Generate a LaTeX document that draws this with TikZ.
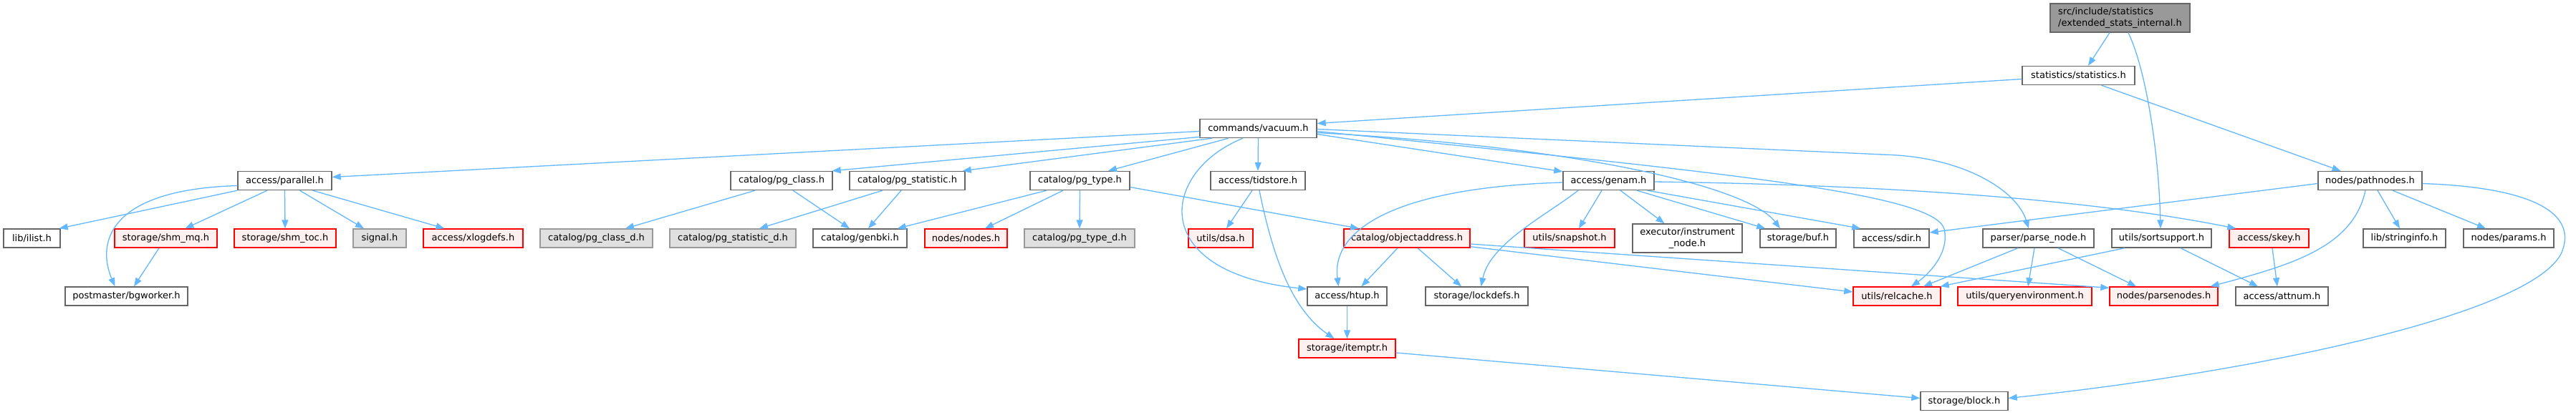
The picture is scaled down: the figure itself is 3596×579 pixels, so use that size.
\documentclass[tikz,border=0pt]{standalone}
\usepackage{fontspec}
\setmainfont{DejaVu Sans}
\usetikzlibrary{arrows.meta}
\definecolor{edgec}{HTML}{63B8FF}
\definecolor{boxborder}{HTML}{666666}
\definecolor{redfill}{HTML}{FFF0F0}
\definecolor{redborder}{HTML}{FF0000}
\definecolor{grayfill}{HTML}{E0E0E0}
\definecolor{grayborder}{HTML}{999999}
\definecolor{topfill}{HTML}{999999}
\begin{document}
\begin{tikzpicture}[x=1pt,y=-1pt,
  box/.style={draw=boxborder, fill=white, line width=1.4pt, minimum height=26pt,
    inner xsep=2pt, inner ysep=0pt, font=\fontsize{13}{15.5}\selectfont, text=black},
  redbox/.style={box, draw=redborder, fill=redfill},
  graybox/.style={box, draw=grayborder, fill=grayfill},
  topbox/.style={box, fill=topfill, minimum height=40pt, align=left},
  twoline/.style={box, minimum height=40pt, align=center},
  edge/.style={draw=edgec, line width=1.3pt, -{Triangle[length=12pt,width=9pt]}}]
\useasboundingbox (0,0) rectangle (3596,579);
\fill[white] (0,0) rectangle (3596,579);
% row 1-3
\node[topbox, minimum width=195pt] (top) at (2959.5,25) {src/include/statistics\\/extended\_stats\_internal.h};
\node[box, minimum width=157pt] (stat) at (2901.5,105.5) {statistics/statistics.h};
\node[box, minimum width=163pt] (vac) at (1756.5,179.5) {commands/vacuum.h};
% row 4
\node[box, minimum width=131pt] (par) at (397.5,252.5) {access/parallel.h};
\node[box, minimum width=142pt] (pgc) at (1091,252.5) {catalog/pg\_class.h};
\node[box, minimum width=161pt] (pgs) at (1266.5,252.5) {catalog/pg\_statistic.h};
\node[box, minimum width=139pt] (pgt) at (1507.5,252.5) {catalog/pg\_type.h};
\node[box, minimum width=132pt] (tid) at (1756,252.5) {access/tidstore.h};
\node[box, minimum width=127pt] (gen) at (2245.5,252.5) {access/genam.h};
\node[box, minimum width=145pt] (pth) at (3308.5,252.5) {nodes/pathnodes.h};
% row 5
\node[box, minimum width=79pt] (ilist) at (44.5,333) {lib/ilist.h};
\node[redbox, minimum width=143pt] (shmmq) at (231.5,333) {storage/shm\_mq.h};
\node[redbox, minimum width=142pt] (shmtoc) at (398,333) {storage/shm\_toc.h};
\node[graybox, minimum width=74pt] (sig) at (530,333) {signal.h};
\node[redbox, minimum width=139pt] (xlog) at (660.5,333) {access/xlogdefs.h};
\node[graybox, minimum width=157pt] (pgcd) at (832.5,333) {catalog/pg\_class\_d.h};
\node[graybox, minimum width=176pt] (pgsd) at (1023,333) {catalog/pg\_statistic\_d.h};
\node[box, minimum width=131pt] (genbki) at (1200.5,333) {catalog/genbki.h};
\node[redbox, minimum width=115pt] (nodes) at (1348.5,333) {nodes/nodes.h};
\node[graybox, minimum width=154pt] (pgtd) at (1507,333) {catalog/pg\_type\_d.h};
\node[redbox, minimum width=90pt] (dsa) at (1704,333) {utils/dsa.h};
\node[redbox, minimum width=176pt] (obj) at (1964,333) {catalog/objectaddress.h};
\node[redbox, minimum width=126pt] (snap) at (2191,333) {utils/snapshot.h};
\node[twoline, minimum width=153pt] (instr) at (2355.5,333) {executor/instrument\\\_node.h};
\node[box, minimum width=106pt] (buf) at (2510,333) {storage/buf.h};
\node[box, minimum width=105pt] (sdir) at (2640.5,333) {access/sdir.h};
\node[box, minimum width=155pt] (pnode) at (2845.5,333) {parser/parse\_node.h};
\node[box, minimum width=139pt] (sort) at (3017.5,333) {utils/sortsupport.h};
\node[redbox, minimum width=111pt] (skey) at (3167.5,333) {access/skey.h};
\node[box, minimum width=115pt] (strinfo) at (3356.5,333) {lib/stringinfo.h};
\node[box, minimum width=126pt] (params) at (3502,333) {nodes/params.h};
% row 6
\node[box, minimum width=171pt] (bgw) at (176.5,414) {postmaster/bgworker.h};
\node[box, minimum width=111pt] (htup) at (1880.5,414) {access/htup.h};
\node[box, minimum width=143pt] (lockd) at (2061.5,414) {storage/lockdefs.h};
\node[redbox, minimum width=122pt] (relc) at (2648,414) {utils/relcache.h};
\node[redbox, minimum width=187pt] (qenv) at (2826.5,414) {utils/queryenvironment.h};
\node[redbox, minimum width=151pt] (pnodes) at (3020.5,414) {nodes/parsenodes.h};
\node[box, minimum width=129pt] (attnum) at (3185.5,414) {access/attnum.h};
% row 7-8
\node[redbox, minimum width=135pt] (itemptr) at (1880.5,487) {storage/itemptr.h};
\node[box, minimum width=122pt] (block) at (2742,560.5) {storage/block.h};

% edges
\draw[edge] ([shift={(-14.5,0)}]top.south) -- ([shift={(13.5,0)}]stat.north);
\draw[edge] ([shift={(11.5,0)}]top.south) .. controls (2997,100) and (3014,220) .. ([shift={(-1.5,0)}]sort.north);
\draw[edge] ([shift={(0,5)}]stat.west) -- ([shift={(0,-7)}]vac.east);
\draw[edge] ([shift={(32,0)}]stat.south) -- ([shift={(-41,0)}]pth.north);
% vacuum
\draw[edge] ([shift={(0,4)}]vac.west) -- ([shift={(0,-5)}]par.east);
\draw[edge] ([shift={(2,-2)}]vac.south west) -- ([shift={(-1,0)}]pgc.north east);
\draw[edge] ([shift={(-64.5,0)}]vac.south) -- ([shift={(-4,0)}]pgs.north east);
\draw[edge] ([shift={(-41.5,0)}]vac.south) -- ([shift={(39.5,0)}]pgt.north);
\draw[edge] (vac.south) -- (tid.north);
\draw[edge] ([shift={(-21.5,0)}]vac.south) .. controls (1620,240) and (1600,380) .. ([shift={(0,-10)}]htup.west);
\draw[edge] ([shift={(0,8)}]vac.east) -- ([shift={(0,1)}]gen.north west);
\draw[edge] ([shift={(0,1)}]vac.east) -- (2640,216.5) .. controls (2740,221) and (2815,265) .. ([shift={(-13.5,0)}]pnode.north);
\draw[edge] ([shift={(0,6)}]vac.east) .. controls (2200,205) and (2440,260) .. ([shift={(-25,0)}]buf.north);
\draw[edge] ([shift={(0,4)}]vac.east) .. controls (2400,240) and (2700,270) .. (2714,320) .. controls (2722,355) and (2690,385) .. ([shift={(20,0)}]relc.north);
% genam
\draw[edge] ([shift={(0,1.5)}]gen.east) .. controls (2600,258) and (2900,275) .. ([shift={(10,0)}]skey.north west);
\draw[edge] ([shift={(-10,0)}]gen.south east) -- ([shift={(10,0)}]sdir.north west);
\draw[edge] ([shift={(39.5,0)}]gen.south) -- ([shift={(8,0)}]buf.north west);
\draw[edge] ([shift={(16.5,0)}]gen.south) -- ([shift={(-32,0)}]instr.north);
\draw[edge] ([shift={(-9.5,0)}]gen.south) -- ([shift={(13,0)}]snap.north);
\draw[edge] ([shift={(0,2.5)}]gen.west) .. controls (1950,262) and (1858,320) .. ([shift={(-12,0)}]htup.north);
\draw[edge] ([shift={(-42.5,0)}]gen.south) .. controls (2160,300) and (2080,340) .. ([shift={(6,0)}]lockd.north);
% parallel
\draw[edge] (par.south west) -- ([shift={(-2,0)}]ilist.north east);
\draw[edge] ([shift={(0,7)}]par.west) .. controls (150,265) and (135,340) .. ([shift={(-16,0)}]bgw.north);
\draw[edge] ([shift={(-24.5,0)}]par.south) -- ([shift={(27,0)}]shmmq.north);
\draw[edge] (par.south) -- (shmtoc.north);
\draw[edge] ([shift={(21,0)}]par.south) -- ([shift={(-22,0)}]sig.north);
\draw[edge] ([shift={(39,0)}]par.south) -- ([shift={(-40,0)}]xlog.north);
\draw[edge] ([shift={(-9.5,0)}]shmmq.south) -- ([shift={(10.5,0)}]bgw.north);
% catalog
\draw[edge] ([shift={(-37,0)}]pgc.south) -- ([shift={(40.5,0)}]pgcd.north);
\draw[edge] ([shift={(16,0)}]pgc.south) -- ([shift={(-14.5,0)}]genbki.north);
\draw[edge] ([shift={(-34.5,0)}]pgs.south) -- ([shift={(37,0)}]pgsd.north);
\draw[edge] ([shift={(-8.5,0)}]pgs.south) -- ([shift={(11.5,0)}]genbki.north);
\draw[edge] ([shift={(-46.5,0)}]pgt.south) -- ([shift={(-14,0)}]genbki.north east);
\draw[edge] ([shift={(-23.5,0)}]pgt.south) -- ([shift={(26.5,0)}]nodes.north);
\draw[edge] (pgt.south) -- (pgtd.north);
\draw[edge] ([shift={(0,9)}]pgt.east) -- ([shift={(-67,0)}]obj.north);
% tidstore
\draw[edge] ([shift={(-8,0)}]tid.south) -- ([shift={(8,0)}]dsa.north);
\draw[edge] ([shift={(2,0)}]tid.south) .. controls (1775,350) and (1800,430) .. ([shift={(-18,0)}]itemptr.north);
% objectaddress
\draw[edge] ([shift={(-13,0)}]obj.south) -- ([shift={(20,0)}]htup.north);
\draw[edge] ([shift={(15,0)}]obj.south) -- ([shift={(-21.5,0)}]lockd.north);
\draw[edge] ([shift={(0,-2)}]obj.south east) -- ([shift={(0,-6)}]relc.west);
\draw[edge] ([shift={(0,8)}]obj.east) -- ([shift={(0,2)}]pnodes.north west);
% htup, itemptr
\draw[edge] (htup.south) -- (itemptr.north);
\draw[edge] ([shift={(0,6)}]itemptr.east) -- ([shift={(0,-4)}]block.west);
% parse_node, sortsupport, skey
\draw[edge] ([shift={(-28.5,0)}]pnode.south) -- ([shift={(37,0)}]relc.north);
\draw[edge] ([shift={(-5.5,0)}]pnode.south) -- ([shift={(4.5,0)}]qenv.north);
\draw[edge] ([shift={(27.5,0)}]pnode.south) -- ([shift={(-38.5,0)}]pnodes.north);
\draw[edge] ([shift={(-51.5,0)}]sort.south) -- ([shift={(-1,0)}]relc.north east);
\draw[edge] ([shift={(26.5,0)}]sort.south) -- ([shift={(-33.5,0)}]attnum.north);
\draw[edge] ([shift={(4.5,0)}]skey.south) -- ([shift={(-6.5,0)}]attnum.north);
% pathnodes
\draw[edge] ([shift={(0,4)}]pth.west) -- ([shift={(0,-8)}]sdir.east);
\draw[edge] ([shift={(-6.5,0)}]pth.south) .. controls (3285,345) and (3200,370) .. ([shift={(-11,0)}]pnodes.north east);
\draw[edge] ([shift={(10.5,0)}]pth.south) -- ([shift={(-6.5,0)}]strinfo.north);
\draw[edge] ([shift={(31.5,0)}]pth.south) -- ([shift={(-32,0)}]params.north);
\draw[edge] ([shift={(0,4)}]pth.east) .. controls (3540,262) and (3600,300) .. (3575,355) .. controls (3530,440) and (3150,520) .. ([shift={(0,-4)}]block.east);
\end{tikzpicture}
\end{document}
